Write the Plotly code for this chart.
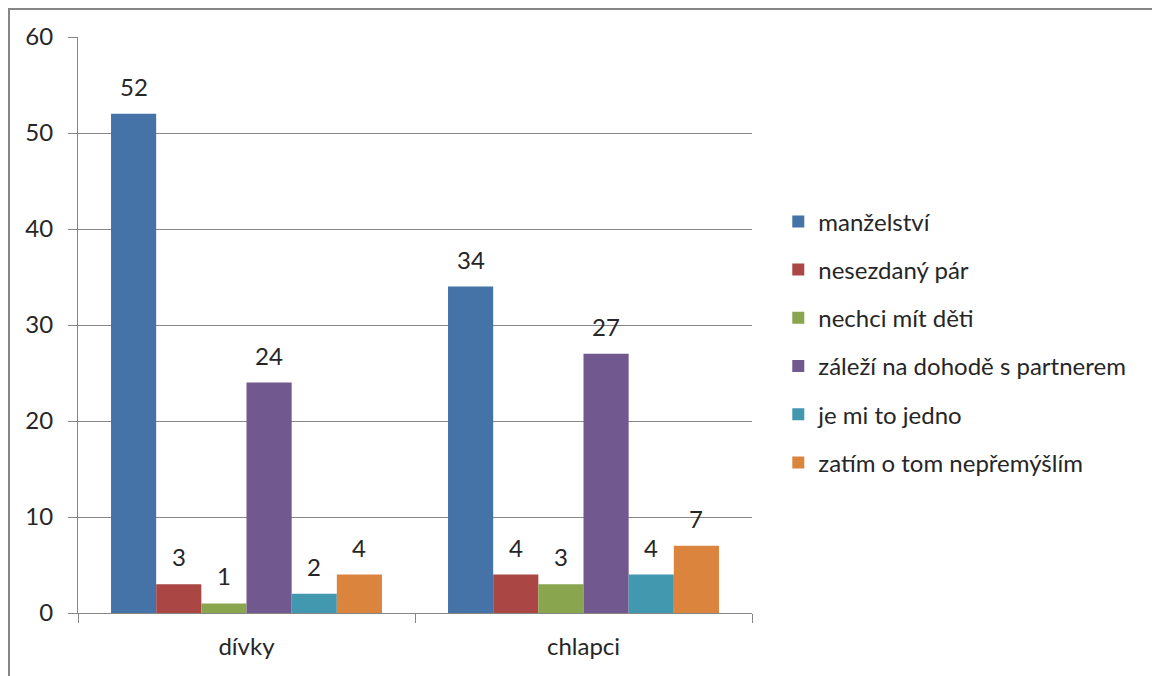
import plotly.graph_objects as go

skupiny = ['dívky', 'chlapci']
odpovedi = ['manželství', 'nesezdaný pár', 'nechci mít děti',
            'záleží na dohodě s partnerem', 'je mi to jedno', 'zatím o tom nepřemýšlím']
hodnoty = [
    [52, 34],
    [3, 4],
    [1, 3],
    [24, 27],
    [2, 4],
    [4, 7],
]
barvy = ['#4572A7', '#AA4643', '#89A54E', '#71588F', '#4198AF', '#DB843D']

font = dict(family='Lato, Open Sans, sans-serif', size=24, color='#262626')
seda = '#868686'
mezera = 0.196  # bargap

fig = go.Figure()
for i, nazev in enumerate(odpovedi):
    fig.add_trace(go.Bar(
        x=skupiny, y=hodnoty[i], name=nazev, legendgroup=nazev,
        marker=dict(color=barvy[i], line=dict(width=0)),
    ))

# popisky nad sloupci (středy sloupců v rámci skupiny)
n = len(odpovedi)
sirka = (1 - mezera) / n
popisky = []
for i in range(n):
    for j, v in enumerate(hodnoty[i]):
        popisky.append(dict(x=j - (1 - mezera) / 2 + (i + 0.5) * sirka, y=v,
                            text=str(v), showarrow=False, yanchor='bottom',
                            yshift=11, font=font))

# stránka má okraj 8 px, proto menší rozměry a okraje
fig.update_layout(
    width=1152, height=668,
    margin=dict(l=70, r=408, t=29, b=63, autoexpand=False),
    paper_bgcolor='white', plot_bgcolor='white',
    font=font,
    barmode='group', bargap=mezera, bargroupgap=0,
    showlegend=True,
    legend=dict(x=1.039, y=0.47, xanchor='left', yanchor='middle',
                tracegroupgap=14, itemwidth=30, font=font,
                bgcolor='rgba(0,0,0,0)'),
    annotations=popisky,
    shapes=[dict(type='rect', xref='paper', yref='paper',
                 x0=(1 - 70) / 674, x1=2, y0=-0.5, y1=604 / 576,
                 line=dict(color=seda, width=2), layer='below')],
)
fig.update_yaxes(range=[0, 60], dtick=10, showgrid=True, gridcolor=seda, gridwidth=1,
                 showline=True, linecolor=seda, linewidth=1,
                 ticks='outside', ticklen=9, tickcolor=seda, zeroline=False,
                 ticklabelstandoff=10, tickfont=font)
fig.update_xaxes(range=[-0.5, 1.5], tickson='boundaries', ticks='outside', ticklen=9,
                 tickcolor=seda, showline=True, linecolor=seda, linewidth=1,
                 ticklabelstandoff=12, tickfont=font)

fig.write_html('out.html')
